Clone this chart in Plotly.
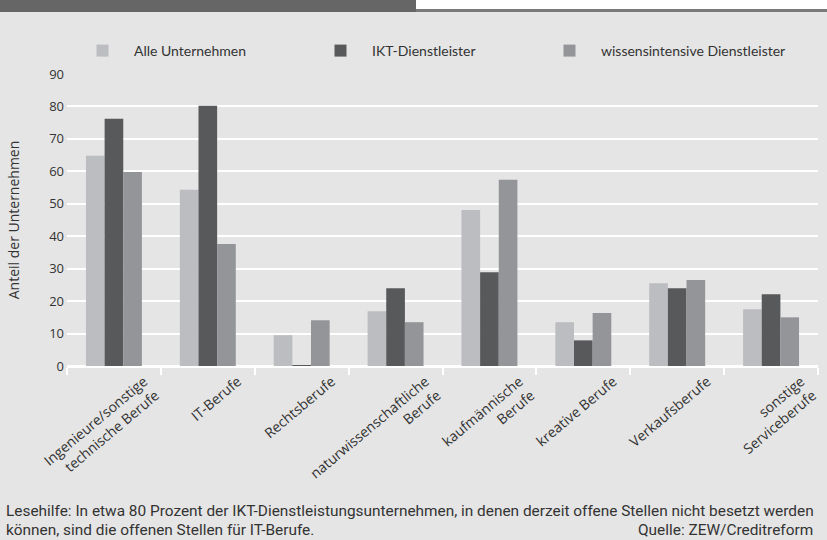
import plotly.graph_objects as go

categories = [
    "Ingenieure/sonstige<br>technische Berufe",
    "IT-Berufe<br>\u00a0",
    "Rechtsberufe<br>\u00a0",
    "naturwissenschaftliche<br>Berufe",
    "kaufmännische<br>Berufe",
    "kreative Berufe<br>\u00a0",
    "Verkaufsberufe<br>\u00a0",
    "sonstige<br>Serviceberufe",
]
alle = [64.8, 54.3, 9.5, 16.9, 48.1, 13.5, 25.5, 17.5]
ikt = [76.2, 80.2, 0.3, 24.0, 28.9, 7.9, 24.0, 22.1]
wissen = [59.8, 37.6, 14.1, 13.5, 57.4, 16.3, 26.5, 15.0]
series_names = ["Alle Unternehmen", "IKT-Dienstleister", "wissensintensive Dienstleister"]
y_ticks = [0, 10, 20, 30, 40, 50, 60, 70, 80, 90]

colors = ["#bcbdc0", "#58595b", "#939598"]
BG = "#e5e5e5"
TXT = "#333333"

W, H = 827, 540
L, R, T, B = 67, 9, 74, 174
pw = W - L - R
ph = H - T - B

def px_x(p):
    return (p - L) / pw

def px_y(p):
    return (H - B - p) / ph

legend_ids = ["legend", "legend2", "legend3"]
legend_px = [71, 309, 538]

fig = go.Figure()
for name, vals, col, lid in zip(series_names, [alle, ikt, wissen], colors, legend_ids):
    fig.add_trace(go.Bar(x=categories, y=vals, name=name, legend=lid, showlegend=True,
                         marker=dict(color=col, line=dict(width=0))))

legend_style = dict(
    orientation="h", y=px_y(51), xanchor="left", yanchor="middle",
    font=dict(family="Lato", size=14, color=TXT), itemwidth=53,
    bgcolor="rgba(0,0,0,0)",
)
legends = {lid: dict(legend_style, x=px_x(lx)) for lid, lx in zip(legend_ids, legend_px)}

fig.update_layout(
    width=W, height=H,
    showlegend=True,
    margin=dict(l=L, r=R, t=T, b=B, autoexpand=False),
    paper_bgcolor=BG, plot_bgcolor=BG,
    barmode="group", bargap=0.404, bargroupgap=0,
    font=dict(family="Open Sans", size=13, color=TXT),
    **legends,
    xaxis=dict(
        showgrid=False, showline=True, linecolor="white", linewidth=2,
        ticks="outside", tickson="boundaries", tickcolor="white", ticklen=7, tickwidth=1.5,
        tickangle=-40, ticklabelshift=30, ticklabelstandoff=0,
        tickfont=dict(family="Open Sans", size=14, color=TXT),
        zeroline=False, fixedrange=True,
    ),
    yaxis=dict(
        range=[0, 90], tickvals=y_ticks, showgrid=True, gridcolor="white", gridwidth=1.5,
        zeroline=True, zerolinecolor="white", zerolinewidth=2, showline=False,
        tickfont=dict(family="Open Sans", size=13, color=TXT), ticks="", ticklabelstandoff=2,
        title=dict(text="Anteil der Unternehmen", font=dict(family="Open Sans", size=14, color=TXT), standoff=26),
    ),
    shapes=[
        dict(type="rect", xref="paper", yref="paper", x0=px_x(0), x1=px_x(416), y0=px_y(12), y1=px_y(0),
             fillcolor="#666666", line=dict(width=0), layer="above"),
        dict(type="rect", xref="paper", yref="paper", x0=px_x(416), x1=px_x(827), y0=px_y(9), y1=px_y(0),
             fillcolor="#ffffff", line=dict(width=0), layer="above"),
        dict(type="rect", xref="paper", yref="paper", x0=px_x(416), x1=px_x(827), y0=px_y(12), y1=px_y(9),
             fillcolor="#7a7a7a", line=dict(width=0), layer="above"),
    ],
    annotations=[
        dict(text="Lesehilfe: In etwa 80 Prozent der IKT-Dienstleistungsunternehmen, in denen derzeit offene Stellen nicht besetzt werden",
             xref="paper", yref="paper", x=px_x(4), y=px_y(511), xanchor="left", yanchor="middle", showarrow=False,
             font=dict(family="Roboto", size=15.4, color=TXT)),
        dict(text="können, sind die offenen Stellen für IT-Berufe.",
             xref="paper", yref="paper", x=px_x(4), y=px_y(530), xanchor="left", yanchor="middle", showarrow=False,
             font=dict(family="Roboto", size=15.4, color=TXT)),
        dict(text="Quelle: ZEW/Creditreform",
             xref="paper", yref="paper", x=px_x(815), y=px_y(530), xanchor="right", yanchor="middle", showarrow=False,
             font=dict(family="Roboto", size=15.4, color=TXT)),
    ],
)

fig.write_html("out.html")
